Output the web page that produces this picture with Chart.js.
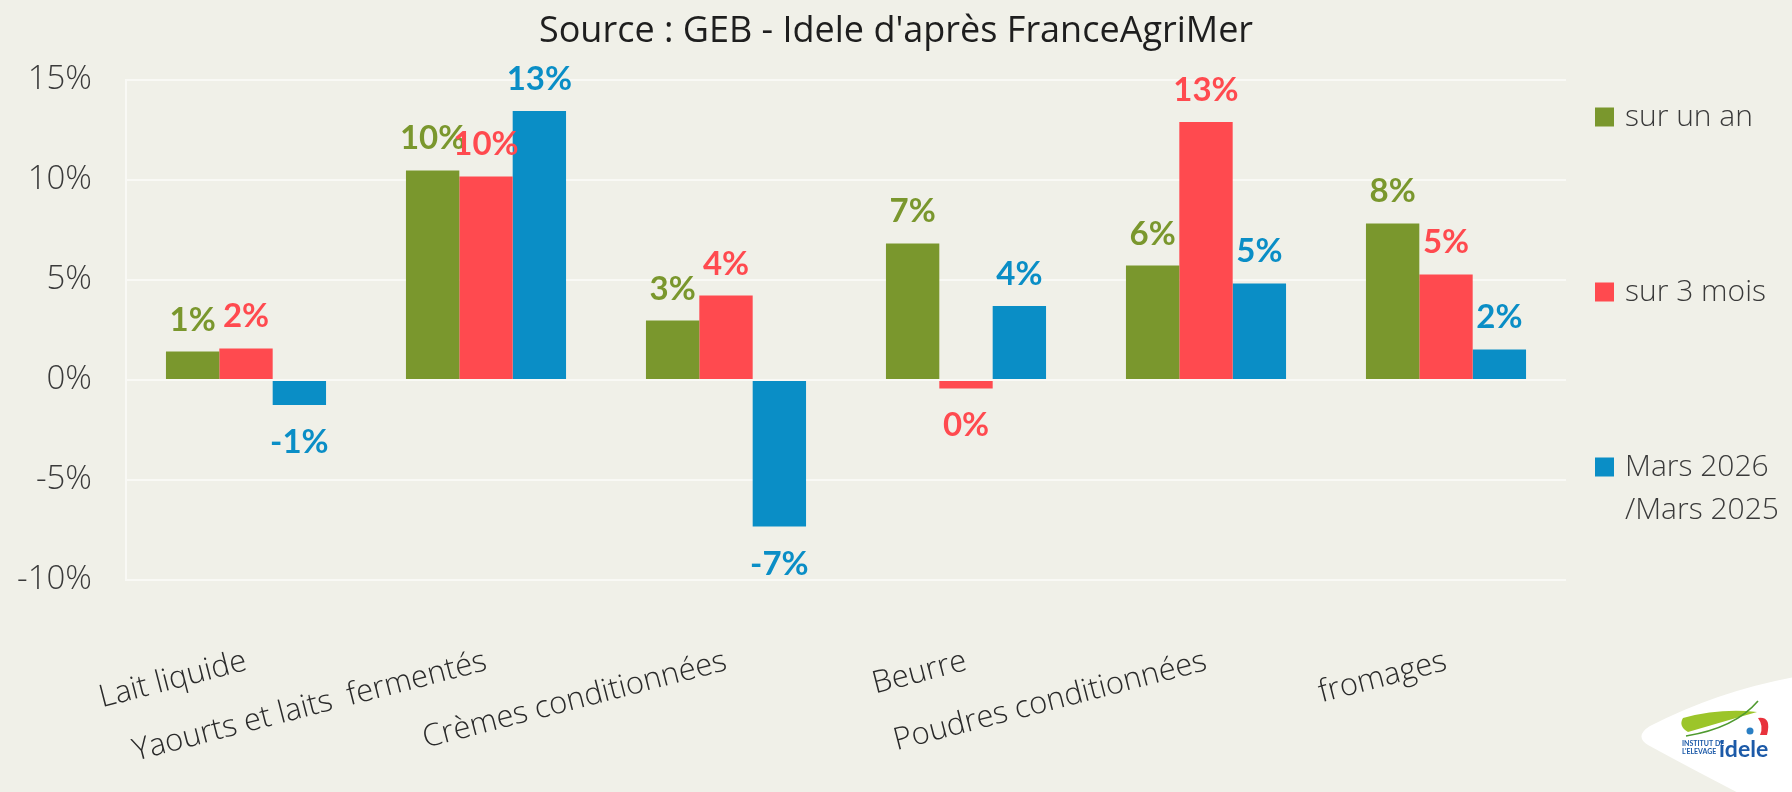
<!DOCTYPE html>
<html>
<head>
<meta charset="utf-8">
<script src="https://cdn.jsdelivr.net/npm/chart.js@4"></script>
<style>
  html, body { margin: 0; padding: 0; background: #f0f0e8; }
  #wrap { width: 1792px; height: 792px; }
</style>
</head>
<body>
<div id="wrap"><canvas id="c" width="1792" height="792"></canvas></div>
<script>
// ---- data ----
const categories = ['Lait liquide', 'Yaourts et laits  fermentés', 'Crèmes conditionnées', 'Beurre', 'Poudres conditionnées', 'fromages'];
const seriesNames = ['sur un an', 'sur 3 mois', ['Mars 2026', '/Mars 2025']];
const surUnAn    = [1.42, 10.48, 2.97, 6.83, 5.72, 7.83];
const sur3Mois   = [1.58, 10.18, 4.22, -0.42, 12.9, 5.28];
const marsVsMars = [-1.25, 13.45, -7.33, 3.7, 4.83, 1.53];
const yTickValues = [-10, -5, 0, 5, 10, 15];
const titleText = "Source : GEB - Idele d'après FranceAgriMer";

// ---- styles ----
const colors = ['#7a972d', '#ff4a4f', '#0a8ec6'];
const BG = '#f0f0e8';
const GRID = '#f9f9f5';
const LIGHT = '"Open Sans", Lato, sans-serif';

const bgPlugin = {
  id: 'bg',
  beforeDraw(chart) {
    const ctx = chart.ctx;
    ctx.save();
    ctx.fillStyle = BG;
    ctx.fillRect(0, 0, chart.width, chart.height);
    ctx.restore();
  }
};

const titlePlugin = {
  id: 'centeredTitle',
  afterDraw(chart) {
    const ctx = chart.ctx;
    ctx.save();
    ctx.font = '400 36px "Open Sans", sans-serif';
    ctx.fillStyle = '#1e1e1e';
    ctx.textAlign = 'center';
    ctx.textBaseline = 'middle';
    ctx.fillText(titleText, chart.width / 2, 32);
    ctx.restore();
  }
};

const valueLabels = {
  id: 'valueLabels',
  afterDatasetsDraw(chart) {
    const ctx = chart.ctx;
    ctx.save();
    ctx.font = '700 33px Lato';
    ctx.textAlign = 'center';
    ctx.textBaseline = 'alphabetic';
    chart.data.datasets.forEach((ds, i) => {
      const meta = chart.getDatasetMeta(i);
      ctx.fillStyle = colors[i];
      meta.data.forEach((bar, j) => {
        const v = ds.data[j];
        const r = Math.round(v);
        const txt = String(r === 0 ? 0 : r) + '%';
        if (v >= 0) {
          ctx.fillText(txt, bar.x, bar.y - 21);
        } else {
          ctx.fillText(txt, bar.x, bar.y + 48);
        }
      });
    });
    ctx.restore();
  }
};

const sideLegend = {
  id: 'sideLegend',
  afterDraw(chart) {
    const ctx = chart.ctx;
    ctx.save();
    ctx.font = '300 30px ' + LIGHT;
    ctx.textAlign = 'left';
    ctx.textBaseline = 'middle';
    const x0 = 1595, box = 19, tx = 1625;
    const yStart = 117, step = 175, lineH = 43;
    seriesNames.forEach((name, i) => {
      const yc = yStart + i * step;
      ctx.fillStyle = colors[i];
      ctx.fillRect(x0, yc - box / 2, box, box);
      ctx.fillStyle = '#3a3a3a';
      const lines = Array.isArray(name) ? name : [name];
      lines.forEach((ln, k) => ctx.fillText(ln, tx, yc + k * lineH));
    });
    ctx.restore();
  }
};

const logo = {
  id: 'logo',
  afterDraw(chart) {
    const ctx = chart.ctx;
    ctx.save();
    ctx.fillStyle = '#ffffff';
    ctx.beginPath();
    ctx.moveTo(1650, 726);
    ctx.quadraticCurveTo(1720, 690, 1800, 676);
    ctx.lineTo(1800, 800);
    ctx.lineTo(1752, 800);
    ctx.quadraticCurveTo(1690, 768, 1648, 745);
    ctx.quadraticCurveTo(1634, 736, 1650, 726);
    ctx.closePath();
    ctx.fill();
    ctx.fillStyle = '#9cc52a';
    ctx.beginPath();
    ctx.moveTo(1683, 718);
    ctx.quadraticCurveTo(1720, 708, 1757, 712);
    ctx.quadraticCurveTo(1722, 722, 1688, 732);
    ctx.quadraticCurveTo(1678, 726, 1683, 718);
    ctx.fill();
    ctx.strokeStyle = '#4f9a2f';
    ctx.lineWidth = 1.6;
    ctx.beginPath();
    ctx.moveTo(1686, 736);
    ctx.quadraticCurveTo(1735, 728, 1758, 701);
    ctx.stroke();
    ctx.fillStyle = '#e8323c';
    ctx.beginPath();
    ctx.moveTo(1758, 718);
    ctx.quadraticCurveTo(1772, 716, 1767, 735);
    ctx.lineTo(1760, 735);
    ctx.quadraticCurveTo(1764, 726, 1758, 718);
    ctx.fill();
    ctx.fillStyle = '#2a7fc4';
    ctx.beginPath();
    ctx.arc(1750, 731, 3.5, 0, Math.PI * 2);
    ctx.fill();
    ctx.fillStyle = '#1c5aa8';
    ctx.font = '700 7px Lato';
    ctx.textBaseline = 'alphabetic';
    ctx.textAlign = 'left';
    ctx.fillText('INSTITUT DE', 1682, 746);
    ctx.fillText("L'ELEVAGE", 1682, 754);
    ctx.font = '700 23px Lato';
    ctx.fillText('idele', 1719, 757);
    ctx.restore();
  }
};

const chart = new Chart(document.getElementById('c'), {
  type: 'bar',
  data: {
    labels: categories,
    datasets: [
      { label: 'sur un an', data: surUnAn, backgroundColor: colors[0] },
      { label: 'sur 3 mois', data: sur3Mois, backgroundColor: colors[1] },
      { label: 'Mars 2026 /Mars 2025', data: marsVsMars, backgroundColor: colors[2] }
    ]
  },
  options: {
    responsive: false,
    animation: false,
    devicePixelRatio: 1,
    layout: { padding: { left: 0, right: 226, top: 80, bottom: 0 } },
    datasets: { bar: { categoryPercentage: 0.667, barPercentage: 1.0 } },
    plugins: {
      legend: { display: false },
      tooltip: { enabled: false },
      title: { display: false }
    },
    scales: {
      x: {
        grid: { display: false, drawTicks: false },
        border: { display: false },
        ticks: {
          autoSkip: false,
          maxRotation: 14.5,
          minRotation: 14.5,
          padding: 63,
          color: '#2a2a2a',
          font: { family: LIGHT, size: 31, weight: '300' }
        },
        afterFit(scale) { scale.height = 212; }
      },
      y: {
        min: yTickValues[0],
        max: yTickValues[yTickValues.length - 1],
        grid: { color: GRID, lineWidth: 2, drawTicks: false },
        border: { display: true, color: GRID, width: 2 },
        ticks: {
          stepSize: 5,
          padding: 34,
          color: '#3a3a3a',
          font: { family: LIGHT, size: 33, weight: '300' },
          callback: (v) => v + '%'
        },
        afterFit(scale) { scale.width = 126; }
      }
    }
  },
  plugins: [bgPlugin, titlePlugin, valueLabels, sideLegend, logo]
});
</script>
</body>
</html>
